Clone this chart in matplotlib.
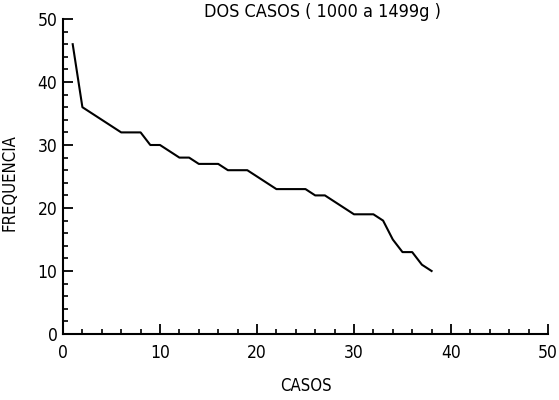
import matplotlib
matplotlib.use("Agg")
import matplotlib.pyplot as plt

# frequency per case (1000 a 1499g)
casos = list(range(1, 39))
frequencia = [46, 36, 35, 34, 33, 32, 32, 32, 30, 30,
              29, 28, 28, 27, 27, 27, 26, 26, 26, 25,
              24, 23, 23, 23, 23, 22, 22, 21, 20, 19,
              19, 19, 18, 15, 13, 13, 11, 10]

x_ticks = [0, 10, 20, 30, 40, 50]
y_ticks = [0, 10, 20, 30, 40, 50]

plt.rcParams["font.family"] = ["DejaVu Sans"]
plt.rcParams["font.stretch"] = "condensed"

fig = plt.figure(figsize=(5.59, 4.0), dpi=100)
ax = fig.add_axes([0.1127, 0.165, 0.8676, 0.7875])

ax.plot(casos, frequencia, color="black", linewidth=1.5)

ax.set_xlim(0, 50)
ax.set_ylim(0, 50)
ax.set_xticks(x_ticks)
ax.set_yticks(y_ticks)
ax.set_xticks(range(0, 51, 2), minor=True)
ax.set_yticks(range(0, 51, 2), minor=True)

for side in ["top", "right"]:
    ax.spines[side].set_visible(False)
for side in ["left", "bottom"]:
    ax.spines[side].set_linewidth(1.5)
    ax.spines[side].set_color("black")

ax.tick_params(which="major", direction="in", length=7.5, width=1.3,
               labelsize=12.5, colors="black")
ax.tick_params(which="minor", direction="in", length=3.8, width=1.2)
ax.tick_params(axis="x", which="major", pad=7)
ax.tick_params(axis="y", which="major", pad=4)

ax.set_xlabel("CASOS", fontsize=12)
ax.xaxis.set_label_coords(0.5, -0.135)
ax.set_ylabel("FREQUENCIA", fontsize=12)
ax.yaxis.set_label_coords(-0.092, 0.48)

# title sits at the very top edge, as in the scan
fig.text(0.576, 0.958, "DOS CASOS ( 1000 a 1499g )", ha="center",
         va="baseline", fontsize=13)

fig.savefig("out.png", dpi=100)
